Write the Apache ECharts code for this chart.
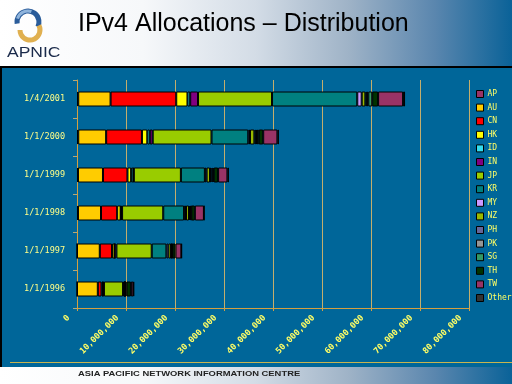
<!DOCTYPE html>
<html><head><meta charset="utf-8">
<script src="https://cdn.jsdelivr.net/npm/echarts@6/dist/echarts.min.js"></script>
<style>html,body{margin:0;padding:0;background:#006699}#c{width:512px;height:384px}</style>
</head><body><div id="c"></div>
<script>
// Data (values in millions of addresses)
const categories = ['1/4/2001','1/1/2000','1/1/1999','1/1/1998','1/1/1997','1/1/1996'];
const xTicks = [0,10000000,20000000,30000000,40000000,50000000,60000000,70000000,80000000];
const economies = ['AP','AU','CN','HK','ID','IN','JP','KR','MY','NZ','PH','PK','SG','TH','TW','Other'];
const AP    = [0.25, 0.25, 0.2, 0.2, 0, 0];
const AU    = [6.6, 5.7, 5.1, 4.7, 4.65, 4.25];
const CN    = [13.4, 7.3, 5.0, 3.3, 2.5, 0.75];
const HK    = [2.3, 1.1, 0.75, 0.7, 0.5, 0.3];
const ID    = [0.55, 0.5, 0.45, 0.1, 0, 0];
const IN    = [1.6, 0.6, 0.1, 0.2, 0.4, 0.2];
const JP    = [15.1, 12.0, 9.6, 8.4, 7.2, 3.9];
const KR    = [17.4, 7.5, 4.9, 4.25, 3.0, 0.3];
const MY    = [0.9, 0.35, 0.35, 0.4, 0.4, 0];
const NZ    = [0.75, 0.9, 0.7, 0.6, 0.55, 0.1];
const PH    = [0.3, 0.3, 0.3, 0.2, 0.1, 0.05];
const PK    = [0.3, 0.25, 0.25, 0.2, 0.1, 0.05];
const SG    = [0.8, 0.35, 0.2, 0.1, 0.1, 0.2];
const TH    = [1.2, 0.9, 0.9, 0.7, 0.6, 0.9];
const TW    = [5.1, 2.9, 1.9, 1.85, 1.2, 0.5];
const Other = [0.4, 0.3, 0.3, 0.1, 0.1, 0.15];
const seriesValues = [AP,AU,CN,HK,ID,IN,JP,KR,MY,NZ,PH,PK,SG,TH,TW,Other];
const colors = ['#993366','#FFCC00','#FF0000','#FFFF00','#33DDEE','#800080','#99CC00','#008080',
                '#CC99FF','#99B800','#666699','#969696','#339966','#003300','#993366','#333333'];

const chart = echarts.init(document.getElementById('c'), null, {renderer:'canvas'});
const fmt = v => v.toLocaleString('en-US');
const headGrad = {type:'linear',x:0,y:0,x2:1,y2:0,colorStops:[
  {offset:0,color:'#ffffff'},{offset:0.28,color:'#f6f8fa'},{offset:0.5,color:'#d3dce6'},
  {offset:0.68,color:'#9fb3c7'},{offset:0.85,color:'#5a86ae'},{offset:1,color:'#0a6298'}]};

chart.setOption({
  backgroundColor:'#006699',
  animation:false,
  color: colors,
  graphic:[
    {type:'rect',shape:{x:0,y:0,width:512,height:66},style:{fill:headGrad},silent:true},
    {type:'rect',shape:{x:0,y:66,width:512,height:2},style:{fill:'#000'},silent:true},
    {type:'rect',shape:{x:0,y:68,width:2,height:299},style:{fill:'#000'},silent:true},
    {type:'rect',shape:{x:10,y:362,width:502,height:1},style:{fill:'#C8B450'},silent:true},
    {type:'rect',shape:{x:0,y:367,width:512,height:17},style:{fill:headGrad},silent:true},
    {type:'text',x:78,y:374,scaleX:1.34,style:{text:'ASIA PACIFIC NETWORK INFORMATION CENTRE',
      font:'bold 7px "Liberation Sans"',fill:'#222',verticalAlign:'middle'},silent:true},
    {type:'text',x:78,y:24,style:{text:'IPv4 Allocations – Distribution',
      font:'25px "Liberation Sans"',fill:'#000',verticalAlign:'middle'},silent:true},
    {type:'arc',shape:{cx:28,cy:22,r:11,startAngle:Math.PI*0.95,endAngle:Math.PI*2.15},
      style:{stroke:'#2a5c9a',lineWidth:5,fill:null},silent:true},
    {type:'arc',shape:{cx:28,cy:22,r:11,startAngle:Math.PI*1.1,endAngle:Math.PI*1.6},
      style:{stroke:'#8fb4dc',lineWidth:3,fill:null},silent:true},
    {type:'arc',shape:{cx:30,cy:30,r:10,startAngle:-Math.PI*0.15,endAngle:Math.PI*1.0},
      style:{stroke:'#e0b050',lineWidth:5,fill:null},silent:true},
    {type:'text',x:7,y:53,scaleX:1.25,style:{text:'APNIC',font:'14px "Liberation Sans"',
      fill:'#1a2a4a',verticalAlign:'middle'},silent:true}
  ],
  legend:{
    orient:'vertical', left:471, top:85,
    itemWidth:7, itemHeight:7, itemGap:5.6,
    icon:'rect',
    data: economies,
    textStyle:{color:'#FFFF66',fontFamily:'DejaVu Sans Mono',fontSize:8,lineHeight:8,padding:[0,0,0,-1]},
    itemStyle:{borderColor:'#000',borderWidth:1}
  },
  grid:{left:77,right:43,top:80,bottom:76,containLabel:false},
  xAxis:{
    type:'value', min:0, max:80000000, interval:10000000,
    axisLine:{show:true,lineStyle:{color:'#D4A040',width:1}},
    axisTick:{show:true,length:3,lineStyle:{color:'#D4A040'}},
    splitLine:{show:true,lineStyle:{color:'#C4AE6C',width:1}},
    axisLabel:{rotate:45,margin:0,padding:[0,12,0,0],color:'#FFFF66',fontFamily:'DejaVu Sans Mono',
      fontWeight:'bold',fontSize:8.5,formatter:v=>fmt(v),showMaxLabel:true,showMinLabel:true}
  },
  yAxis:{
    type:'category', data:categories, inverse:true,
    axisLine:{show:true,lineStyle:{color:'#D4A040',width:1}},
    axisTick:{show:true,length:4,lineStyle:{color:'#B4A878'}},
    splitLine:{show:false},
    axisLabel:{margin:12,color:'#FFFF88',fontFamily:'DejaVu Sans Mono',fontSize:8.5}
  },
  series: economies.map((name,i)=>({
    name, type:'bar', stack:'total', barWidth:15,
    itemStyle:{color:colors[i],borderColor:'#000',borderWidth:1},
    data: seriesValues[i].map(v=>Math.round(v*1000000))
  }))
});
</script></body></html>
